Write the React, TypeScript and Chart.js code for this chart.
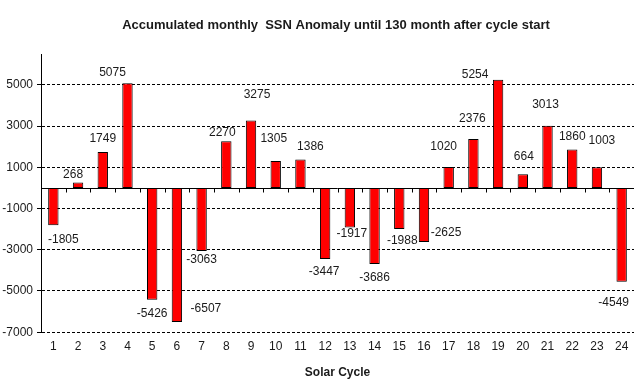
import React, { useEffect, useRef } from "react";
import { Chart, registerables } from "chart.js";

Chart.register(...registerables);

const cycles = ["1","2","3","4","5","6","7","8","9","10","11","12","13","14","15","16","17","18","19","20","21","22","23","24"];
const anomaly = [-1805, 268, 1749, 5075, -5426, -6507, -3063, 2270, 3275, 1305, 1386, -3447, -1917, -3686, -1988, -2625, 1020, 2376, 5254, 664, 3013, 1860, 1003, -4549];
const yTicks = [-7000, -5000, -3000, -1000, 1000, 3000, 5000];
const titleText = "Accumulated monthly  SSN Anomaly until 130 month after cycle start";
const xTitle = "Solar Cycle";

// label nudges (px) relative to each bar's end, as hand-placed in the original
const labelNudgeX = [10, -5, 0, -15, 0, 29, 0, -4, 6, -2, 10, -1, 2, 0, 3, 22, -5, -1, -23, 1, -2, 0, 5, -8];
const labelNudgeY = [15, -8, -13, -11, 14, -13, 9, -8, -26, -22, -13, 13, 6, 14, 12, -9, -20, -20, -5, -18, -21, -13, -27, 21];

const FONT = "'Liberation Sans', Arial, sans-serif";
const TEXT = "#1a1a1a";

const titlePlugin = {
  id: "offsetTitle",
  afterDraw(chart: any) {
    const { ctx } = chart;
    ctx.save();
    ctx.font = `bold 13px ${FONT}`;
    ctx.fillStyle = TEXT;
    ctx.textAlign = "center";
    ctx.textBaseline = "middle";
    ctx.fillText(titleText, 336, 25);
    ctx.restore();
  },
};

const zeroLinePlugin = {
  id: "zeroLine",
  afterDatasetsDraw(chart: any) {
    const { ctx, chartArea, scales } = chart;
    const y = Math.round(scales.y.getPixelForValue(0)) + 0.5;
    ctx.save();
    ctx.strokeStyle = "#000";
    ctx.lineWidth = 1;
    ctx.setLineDash([]);
    ctx.beginPath();
    ctx.moveTo(chartArea.left, y);
    ctx.lineTo(chartArea.right, y);
    const n = chart.data.labels.length;
    const w = (chartArea.right - chartArea.left) / n;
    for (let i = 1; i < n; i++) {
      const x = Math.round(chartArea.left + i * w) + 0.5;
      ctx.moveTo(x, y);
      ctx.lineTo(x, y + 4);
    }
    ctx.stroke();
    ctx.restore();
  },
};

const valueLabelPlugin = {
  id: "valueLabels",
  afterDatasetsDraw(chart: any) {
    const { ctx } = chart;
    const meta = chart.getDatasetMeta(0);
    const data = chart.data.datasets[0].data as number[];
    ctx.save();
    ctx.font = `12px ${FONT}`;
    ctx.fillStyle = TEXT;
    ctx.textAlign = "center";
    ctx.textBaseline = "middle";
    meta.data.forEach((bar: any, i: number) => {
      const v = data[i];
      ctx.fillText(String(v), bar.x + labelNudgeX[i], bar.y + labelNudgeY[i]);
    });
    ctx.restore();
  },
};

export default function App() {
  const ref = useRef<HTMLCanvasElement>(null);
  useEffect(() => {
    if (!ref.current) return;
    const chart = new Chart(ref.current, {
      type: "bar",
      data: {
        labels: cycles,
        datasets: [
          {
            data: anomaly,
            backgroundColor: "#ff0000",
            borderColor: "#000000",
            borderWidth: 1,
            borderSkipped: false,
            barPercentage: 0.42,
            categoryPercentage: 1,
          },
        ],
      },
      options: {
        responsive: false,
        animation: false,
        layout: { padding: { left: 0, right: 6, top: 54, bottom: 4 } },
        plugins: {
          legend: { display: false },
          tooltip: { enabled: false },
          title: { display: false },
        },
        scales: {
          x: {
            grid: { display: false, drawTicks: false },
            border: { display: false },
            ticks: { color: TEXT, font: { family: FONT, size: 12 }, padding: 7, maxRotation: 0 },
            title: {
              display: true,
              text: xTitle,
              color: TEXT,
              font: { family: FONT, size: 12, weight: "bold" },
              padding: { top: 5, bottom: 0 },
            },
          },
          y: {
            min: -7000,
            max: 6500,
            afterBuildTicks: (scale: any) => {
              scale.ticks = yTicks.map((v) => ({ value: v }));
            },
            afterFit: (scale: any) => {
              scale.width = 41;
            },
            grid: {
              color: "#000",
              lineWidth: 1,
              tickLength: 4,
              tickBorderDash: [],
              tickColor: "#000",
              drawTicks: true,
            } as any,
            border: { display: true, color: "#000", width: 1, dash: [3, 2] },
            ticks: {
              color: TEXT,
              font: { family: FONT, size: 12 },
              padding: 4,
              callback: (v: any) => String(v),
            },
          },
        },
      },
      plugins: [zeroLinePlugin, valueLabelPlugin, titlePlugin],
    });
    return () => chart.destroy();
  }, []);
  return (
    <div style={{ position: "absolute", left: 0, top: 0, width: 640, height: 384, background: "#fff" }}>
      <canvas ref={ref} width={640} height={384} />
    </div>
  );
}
